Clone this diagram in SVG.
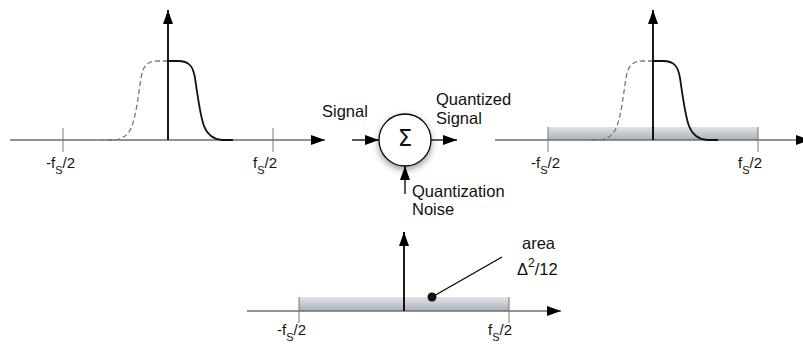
<svg xmlns="http://www.w3.org/2000/svg" width="803" height="347" viewBox="0 0 803 347">
  <style>
    .ax{stroke:#6e6e6e;stroke-width:1.6;fill:none}
    .vax{stroke:#000;stroke-width:1.8;fill:none}
    .tick{stroke:#777;stroke-width:1;fill:none}
    .sol{stroke:#111;stroke-width:1.8;fill:none}
    .dash{stroke:#777;stroke-width:1.3;fill:none;stroke-dasharray:5 3}
    .conn{stroke:#000;stroke-width:1.3;fill:none}
    .lbl{font-family:"Liberation Sans",Arial,sans-serif;font-size:16.5px;fill:#111}
    .fl{font-family:"Liberation Sans",Arial,sans-serif;font-size:15px;fill:#111}
    .sub{font-size:11px}
    .band{fill:url(#bg)}
    .head{fill:#000}
  </style>
  <defs>
    <linearGradient id="bg" x1="0" y1="0" x2="0" y2="1">
      <stop offset="0" stop-color="#dfe3e8"/>
      <stop offset="1" stop-color="#a9b1bb"/>
    </linearGradient>
    <filter id="sh" x="-50%" y="-50%" width="200%" height="200%">
      <feDropShadow dx="0" dy="3" stdDeviation="3" flood-color="#3a4a5c" flood-opacity="0.55"/>
    </filter>
    <marker id="ahb" viewBox="0 0 14 10" refX="14" refY="5" markerWidth="14" markerHeight="10" markerUnits="userSpaceOnUse" orient="auto">
      <path d="M0,0 L14,5 L0,10 Z" class="head"/>
    </marker>
  </defs>

  <!-- Left plot: input signal spectrum -->
  <g id="plot-signal">
    <line class="ax" x1="10" y1="140" x2="325" y2="140" marker-end="url(#ahb)"/>
    <line class="tick" x1="63" y1="128" x2="63" y2="152"/>
    <line class="tick" x1="273" y1="128" x2="273" y2="152"/>
    <path class="dash" d="M168,61 L158,61 C147,61 143,66 141,78 C138,98 136,115 132,126 C129,134 124,139 114,140 L103,140"/>
    <path class="sol" d="M168,61 L178,61 C189,61 193,66 195,78 C198,98 200,115 204,126 C207,134 212,139 222,140 L233,140"/>
    <line class="vax" x1="168" y1="140" x2="168" y2="10" marker-end="url(#ahb)"/>
    <text class="fl" x="46" y="168">-f<tspan class="sub" dy="6">S</tspan><tspan dy="-6">/2</tspan></text>
    <text class="fl" x="253" y="168">f<tspan class="sub" dy="6">S</tspan><tspan dy="-6">/2</tspan></text>
  </g>

  <!-- Summing node -->
  <g id="sum">
    <circle cx="405" cy="140" r="26" fill="#fff" stroke="#000" stroke-width="1.3" filter="url(#sh)"/>
    <text x="405" y="146" text-anchor="middle" font-family="'DejaVu Sans',sans-serif" font-size="23" fill="#111">Σ</text>
  </g>

  <!-- Connectors -->
  <g id="connectors">
    <line class="conn" x1="352" y1="140" x2="379" y2="140" marker-end="url(#ahb)"/>
    <line class="conn" x1="431" y1="140" x2="457" y2="140" marker-end="url(#ahb)"/>
    <line class="conn" x1="405" y1="194" x2="405" y2="166" marker-end="url(#ahb)"/>
  </g>

  <g id="labels">
    <text class="lbl" x="322" y="117">Signal</text>
    <text class="lbl" x="436" y="105">Quantized</text>
    <text class="lbl" x="436" y="124">Signal</text>
    <text class="lbl" x="412" y="197">Quantization</text>
    <text class="lbl" x="412" y="215">Noise</text>
  </g>

  <!-- Right plot: quantized signal spectrum -->
  <g id="plot-quantized">
    <rect class="band" x="548" y="127" width="210" height="13"/>
    <line class="ax" x1="495" y1="140" x2="810" y2="140" marker-end="url(#ahb)"/>
    <line class="tick" x1="548" y1="127" x2="548" y2="152"/>
    <line class="tick" x1="758" y1="127" x2="758" y2="152"/>
    <path class="dash" d="M653,61 L643,61 C632,61 628,66 626,78 C623,98 621,115 617,126 C614,134 609,139 599,140 L588,140"/>
    <path class="sol" d="M653,61 L663,61 C674,61 678,66 680,78 C683,98 685,115 689,126 C692,134 697,139 707,140 L718,140"/>
    <line class="vax" x1="653" y1="140" x2="653" y2="10" marker-end="url(#ahb)"/>
    <text class="fl" x="531" y="168">-f<tspan class="sub" dy="6">S</tspan><tspan dy="-6">/2</tspan></text>
    <text class="fl" x="738" y="168">f<tspan class="sub" dy="6">S</tspan><tspan dy="-6">/2</tspan></text>
  </g>

  <!-- Bottom plot: quantization noise spectrum -->
  <g id="plot-noise">
    <rect class="band" x="299" y="297" width="210" height="14"/>
    <line class="ax" x1="247" y1="311" x2="561" y2="311" marker-end="url(#ahb)"/>
    <line class="tick" x1="299" y1="297" x2="299" y2="323"/>
    <line class="tick" x1="509" y1="297" x2="509" y2="323"/>
    <line class="vax" x1="404" y1="311" x2="404" y2="232" marker-end="url(#ahb)"/>
    <line class="conn" x1="432" y1="297" x2="502" y2="257"/>
    <circle cx="432" cy="297" r="4.5" fill="#111"/>
    <text class="fl" x="277" y="335">-f<tspan class="sub" dy="6">S</tspan><tspan dy="-6">/2</tspan></text>
    <text class="fl" x="488" y="335">f<tspan class="sub" dy="6">S</tspan><tspan dy="-6">/2</tspan></text>
    <text class="lbl" x="522" y="249">area</text>
    <text class="lbl" x="517" y="275">Δ<tspan font-size="12" dy="-8">2</tspan><tspan dy="8">/12</tspan></text>
  </g>
</svg>
